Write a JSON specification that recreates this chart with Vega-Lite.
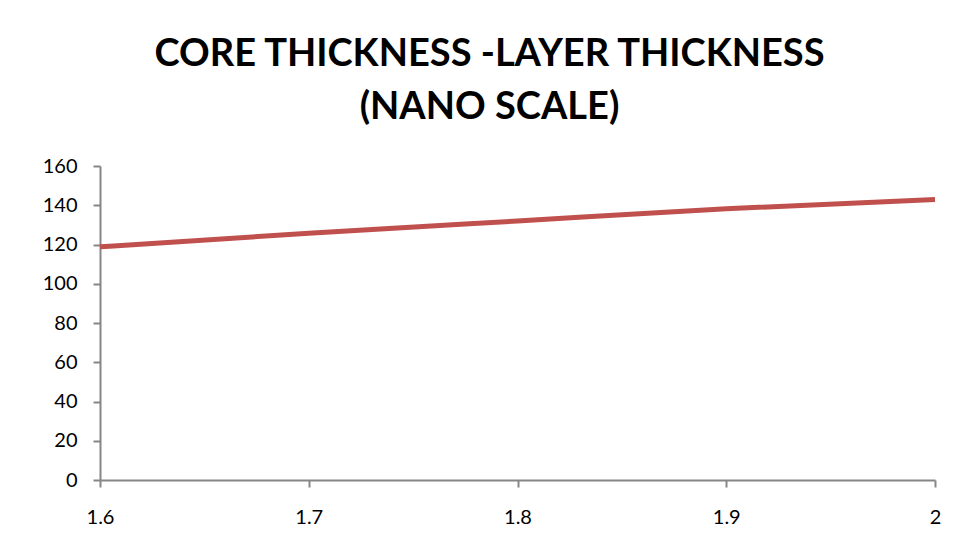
{
  "$schema": "https://vega.github.io/schema/vega-lite/v6.json",
  "width": 835,
  "height": 314,
  "autosize": "none",
  "padding": {"left": 100, "top": 166, "right": 23, "bottom": 79},
  "background": "white",
  "title": {
    "text": ["CORE THICKNESS -LAYER THICKNESS", "(NANO SCALE)"],
    "font": "Lato",
    "fontSize": 38,
    "fontWeight": "bold",
    "color": "black",
    "anchor": "middle",
    "lineHeight": 53,
    "offset": 29,
    "dx": -28
  },
  "data": {
    "values": [
      {"core": 1.6, "layer": 118.8},
      {"core": 1.7, "layer": 125.7},
      {"core": 1.8, "layer": 132.0},
      {"core": 1.9, "layer": 138.2},
      {"core": 2.0, "layer": 142.9}
    ]
  },
  "mark": {"type": "line", "color": "#C0504D", "strokeWidth": 5, "interpolate": "monotone"},
  "encoding": {
    "x": {
      "field": "core",
      "type": "quantitative",
      "scale": {"domain": [1.6, 2.0], "nice": false, "zero": false},
      "axis": {
        "title": null,
        "values": [1.6, 1.7, 1.8, 1.9, 2.0],
        "format": ".1~f",
        "grid": false,
        "domainColor": "#868686",
        "domainWidth": 2,
        "tickColor": "#868686",
        "tickWidth": 2,
        "tickSize": 7,
        "labelFont": "Lato",
        "labelFontSize": 20,
        "labelColor": "black",
        "labelPadding": 20,
        "labelFlush": false
      }
    },
    "y": {
      "field": "layer",
      "type": "quantitative",
      "scale": {"domain": [0, 160], "nice": false},
      "axis": {
        "title": null,
        "values": [0, 20, 40, 60, 80, 100, 120, 140, 160],
        "grid": false,
        "domainColor": "#868686",
        "domainWidth": 2,
        "tickColor": "#868686",
        "tickWidth": 2,
        "tickSize": 7,
        "labelFont": "Lato",
        "labelFontSize": 20,
        "labelColor": "black",
        "labelPadding": 16
      }
    }
  },
  "config": {"view": {"stroke": null}}
}
